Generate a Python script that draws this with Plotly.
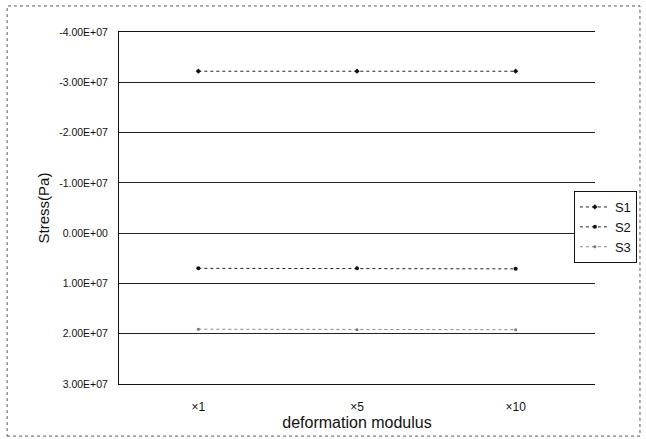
import plotly.graph_objects as go

categories = ["×1", "×5", "×10"]
s1 = [-3.22e7, -3.22e7, -3.22e7]
s2 = [0.70e7, 0.70e7, 0.71e7]
s3 = [1.91e7, 1.92e7, 1.92e7]
tick_vals = [-4e7, -3e7, -2e7, -1e7, 0, 1e7, 2e7, 3e7]
tick_text = ["-4.00E+07", "-3.00E+07", "-2.00E+07", "-1.00E+07",
             "0.00E+00", "1.00E+07", "2.00E+07", "3.00E+07"]

fig = go.Figure()
fig.add_trace(go.Scatter(x=categories, y=s1, name="S1", mode="lines+markers",
                         line=dict(color="#222222", width=1, dash="dot"),
                         marker=dict(symbol="diamond", size=4, color="#111111")))
fig.add_trace(go.Scatter(x=categories, y=s2, name="S2", mode="lines+markers",
                         line=dict(color="#222222", width=1, dash="dot"),
                         marker=dict(symbol="circle", size=4, color="#111111")))
fig.add_trace(go.Scatter(x=categories, y=s3, name="S3", mode="lines+markers",
                         line=dict(color="#888888", width=1, dash="dot"),
                         marker=dict(symbol="circle", size=3, color="#777777")))

fig.update_layout(
    width=646, height=439,
    margin=dict(l=119, r=51, t=32, b=55, autoexpand=False),
    paper_bgcolor="white", plot_bgcolor="white",
    font=dict(family="Liberation Sans, Arial, sans-serif", color="#111111"),
    showlegend=True,
    legend=dict(x=1.088, y=0.446, xanchor="right", yanchor="middle",
                bordercolor="#111111", borderwidth=1, bgcolor="white",
                font=dict(size=13), tracegroupgap=0, itemwidth=30),
    xaxis=dict(type="category", range=[-0.5, 2.5], showgrid=False,
               showline=True, mirror=True,
               linecolor="#111111", linewidth=1,
               ticks="", tickfont=dict(size=12), ticklabelstandoff=12,
               title=dict(text="deformation modulus", font=dict(size=16), standoff=3)),
    yaxis=dict(range=[3e7, -4e7], tickvals=tick_vals, ticktext=tick_text,
               showgrid=True, gridcolor="#222222", gridwidth=1,
               showline=True, linecolor="#111111", linewidth=1, zeroline=False,
               ticks="", tickfont=dict(size=10.5), ticklabelstandoff=8,
               title=dict(text="Stress(Pa)", font=dict(size=15), standoff=5)),
)
fig.add_shape(type="rect", xref="paper", yref="paper",
              x0=-0.235, x1=1.0945, y0=-0.148, y1=1.074,
              line=dict(color="#555555", width=1, dash="dot"))
fig.write_html("out.html")
